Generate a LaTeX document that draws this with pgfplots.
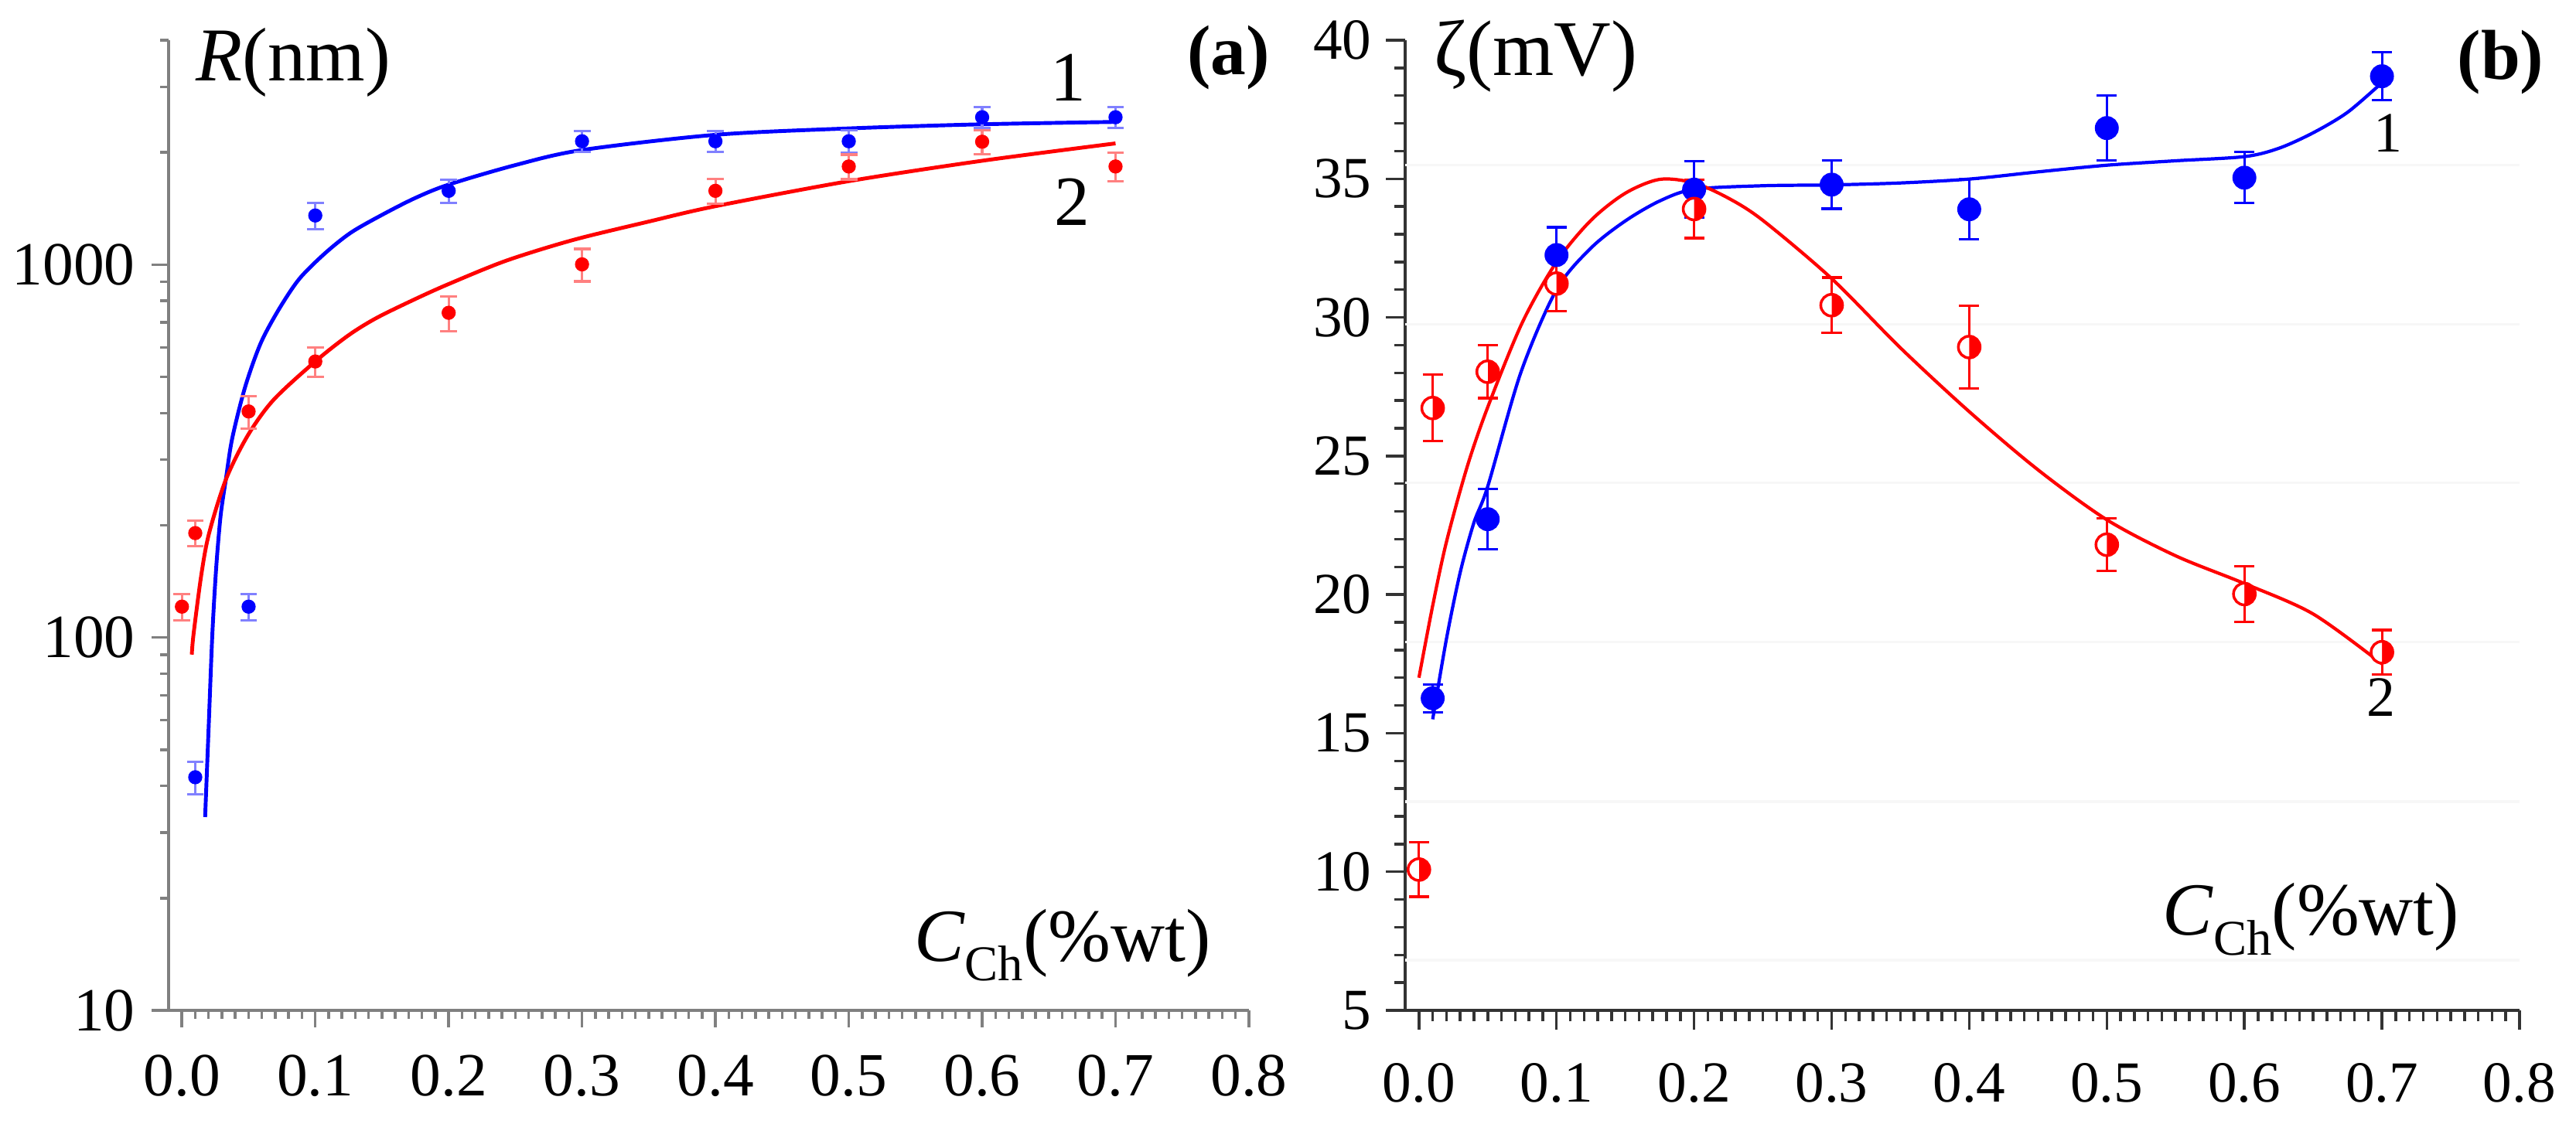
\documentclass[border=0pt]{standalone}
\usepackage{fontspec}
\setmainfont{Liberation Serif}
\usepackage{pgfplots}
\usepackage{pgfplotstable}
\pgfplotsset{compat=1.18}
\usetikzlibrary{plotmarks}

% panel (a): size R (nm), measured points with errors
\pgfplotstableread{
x     y      e
0.01  42.2   4.2
0.05  121    10
0.1   1355   108
0.2   1578   115
0.3   2143   140
0.4   2143   140
0.5   2143   150
0.6   2486   160
0.7   2486   160
}\ablue
\pgfplotstableread{
x     y      e
0.0   121    10
0.01  190.6  15
0.05  404    40
0.1   550    50
0.2   743    80
0.3   1002   100
0.4   1578   120
0.5   1834   140
0.6   2137   160
0.7   1834   160
}\ared
% fitted curves (a)
\pgfplotstableread{
x       y
0.0174  33
0.0200  57
0.0228  102
0.0257  154
0.0290  212
0.0329  265
0.0377  342
0.0474  470
0.059   615
0.0725  757
0.088   916
0.1074  1074
0.1267  1219
0.15    1360
0.175   1510
0.2     1640
0.25    1850
0.3     2030
0.4     2230
0.5     2320
0.6     2380
0.7     2415
}\abluefit
\pgfplotstableread{
x       y
0.0074  90
0.0087  102
0.0145  147
0.0203  190
0.0329  265
0.0493  348
0.0687  434
0.1002  551
0.125   647
0.146   720
0.175   809
0.2002  888
0.2428  1024
0.293   1164
0.35    1305
0.4     1435
0.5     1675
0.6     1900
0.7     2115
}\aredfit

% panel (b): zeta potential (mV)
\pgfplotstableread{
x     y      e
0.01  16.26  0.5
0.05  22.72  1.08
0.1   32.25  1.0
0.2   34.61  1.02
0.3   34.79  0.87
0.4   33.9   1.09
0.5   36.83  1.17
0.6   35.04  0.92
0.7   38.7   0.86
}\bblue
\pgfplotstableread{
x     y      e
0.0   10.08  0.98
0.01  26.73  1.2
0.05  28.04  0.95
0.1   31.22  1.0
0.2   33.91  1.05
0.3   30.44  1.0
0.4   28.93  1.5
0.5   21.8   0.95
0.6   20.02  1.0
0.7   17.92  0.8
}\bred
\pgfplotstableread{
x      y
0.01   15.5
0.02   18.4
0.03   20.8
0.04   22.6
0.05   23.9
0.074  28.0
0.1    31.0
0.125  32.5
0.15   33.48
0.175  34.2
0.2    34.62
0.25   34.75
0.3    34.78
0.35   34.85
0.4    34.99
0.45   35.25
0.5    35.49
0.55   35.65
0.6    35.8
0.625  36.1
0.65   36.66
0.675  37.4
0.7    38.47
}\bbluefit
\pgfplotstableread{
x      y
0.0    17.0
0.01   19.6
0.02   21.9
0.035  24.6
0.05   26.76
0.075  29.8
0.1    32.0
0.125  33.5
0.15   34.48
0.175  34.98
0.2    34.85
0.225  34.3
0.25   33.5
0.3    31.4
0.35   28.9
0.4    26.6
0.45   24.5
0.5    22.7
0.55   21.4
0.6    20.4
0.65   19.3
0.7    17.5
}\bredfit

\pgfplotsset{
  panel/.style={
    scale only axis,
    anchor=south west,
    height=6.275cm,
    xmin=-0.01, xmax=0.8,
    axis x line=bottom, axis y line=left,
    x axis line style={-}, y axis line style={-},
    tick align=outside,
    xtick={0,0.1,0.2,0.3,0.4,0.5,0.6,0.7,0.8},
    xticklabels={0.0,0.1,0.2,0.3,0.4,0.5,0.6,0.7,0.8},
    minor x tick num=9,
    clip=false,
  },
}

\begin{document}
\begin{tikzpicture}
\useasboundingbox (0,0) rectangle (16.655,7.265);

% ---------- (a) ----------
\begin{axis}[
  panel,
  at={(1.09cm,0.73cm)},
  width=6.985cm,
  ymode=log, ymin=10, ymax=4000,
  ytick={10,100,1000}, yticklabels={10,100,1000},
  minor ytick={20,30,40,50,60,70,80,90,200,300,400,500,600,700,800,900,2000,3000,4000},
  axis line style={black!50, line width=0.5pt},
  tick style={black!50, line width=0.5pt},
  major tick length=0.11cm, minor tick length=0.055cm,
  tick label style={font=\fontsize{11.3}{12}\selectfont, inner sep=0pt},
  yticklabel style={xshift=-0.1cm},
  xticklabel style={yshift=-0.17cm},
]
\addplot[blue, line width=0.7pt, smooth, no marks] table[x=x, y=y] {\abluefit};
\addplot[red, line width=0.7pt, smooth, no marks] table[x=x, y=y] {\aredfit};
\addplot[only marks, blue, mark=*, mark size=1.1pt,
  error bars/.cd, y dir=both, y explicit,
  error bar style={blue!50, line width=0.45pt},
  error mark options={rotate=90, blue!50, mark size=1.56pt, line width=0.45pt}]
  table[x=x, y=y, y error=e] {\ablue};
\addplot[only marks, red, mark=*, mark size=1.1pt,
  error bars/.cd, y dir=both, y explicit,
  error bar style={red!50, line width=0.45pt},
  error mark options={rotate=90, red!50, mark size=1.56pt, line width=0.45pt}]
  table[x=x, y=y, y error=e] {\ared};

\node[anchor=west, inner sep=0pt] at (rel axis cs:0.0243,0.977)
  {\fontsize{14}{14}\selectfont\textit{R}(nm)};
\node[anchor=base east, inner sep=0pt] at (rel axis cs:0.9657,0.051)
  {\fontsize{13.8}{14}\selectfont\textit{C}\raisebox{-0.125cm}{\fontsize{9.2}{9}\selectfont Ch}(\%wt)};
\node[inner sep=0pt] at (rel axis cs:0.833,0.9618) {\fontsize{13}{13}\selectfont 1};
\node[inner sep=0pt] at (rel axis cs:0.8365,0.833) {\fontsize{13}{13}\selectfont 2};
\node[inner sep=0pt] at (rel axis cs:0.981,0.982) {\fontsize{13}{13}\selectfont\bfseries (a)};
\end{axis}

% ---------- (b) ----------
\begin{axis}[
  panel,
  at={(9.085cm,0.73cm)},
  width=7.205cm,
  ymin=5, ymax=40,
  ytick={5,10,15,20,25,30,35,40},
  yticklabels={5,10,15,20,25,30,35,40},
  minor y tick num=4,
  axis line style={black!80, line width=0.5pt},
  tick style={black!80, line width=0.5pt},
  major tick length=0.125cm, minor tick length=0.07cm,
  tick label style={font=\fontsize{10.7}{11}\selectfont, inner sep=0pt},
  yticklabel style={xshift=-0.085cm},
  xticklabel style={yshift=-0.21cm},
  extra y ticks={6.82,12.53,18.29,24.03,29.75,35.5},
  extra y tick labels={},
  extra y tick style={grid=major, major tick length=0pt,
    major grid style={black!3, line width=0.5pt}},
]
\addplot[blue, line width=0.6pt, smooth, no marks] table[x=x, y=y] {\bbluefit};
\addplot[red, line width=0.6pt, smooth, no marks] table[x=x, y=y] {\bredfit};
\addplot[only marks, blue, mark=*, mark size=2pt,
  mark options={fill=blue, draw=blue},
  error bars/.cd, y dir=both, y explicit,
  error bar style={blue, line width=0.45pt},
  error mark options={rotate=90, blue, mark size=1.85pt, line width=0.45pt}]
  table[x=x, y=y, y error=e] {\bblue};
\addplot[only marks, red, mark=halfcircle*, mark size=2pt,
  mark options={fill=red, draw=red, rotate=-90, line width=0.5pt},
  error bars/.cd, y dir=both, y explicit,
  error bar style={red, line width=0.45pt},
  error mark options={rotate=90, red, mark size=1.85pt, line width=0.45pt}]
  table[x=x, y=y, y error=e] {\bred};

\node[anchor=west, inner sep=0pt] at (rel axis cs:0.025,0.9837)
  {\fontsize{14.5}{15}\selectfont ζ(mV)};
\node[anchor=base east, inner sep=0pt] at (rel axis cs:0.947,0.078)
  {\fontsize{13.8}{14}\selectfont\textit{C}\raisebox{-0.13cm}{\fontsize{9.2}{9}\selectfont Ch}(\%wt)};
\node[inner sep=0pt] at (rel axis cs:0.882,0.9044) {\fontsize{10.5}{11}\selectfont 1};
\node[inner sep=0pt] at (rel axis cs:0.876,0.323) {\fontsize{10.5}{11}\selectfont 2};
\node[inner sep=0pt] at (rel axis cs:0.983,0.977) {\fontsize{13}{13}\selectfont\bfseries (b)};
\end{axis}
\end{tikzpicture}
\end{document}
